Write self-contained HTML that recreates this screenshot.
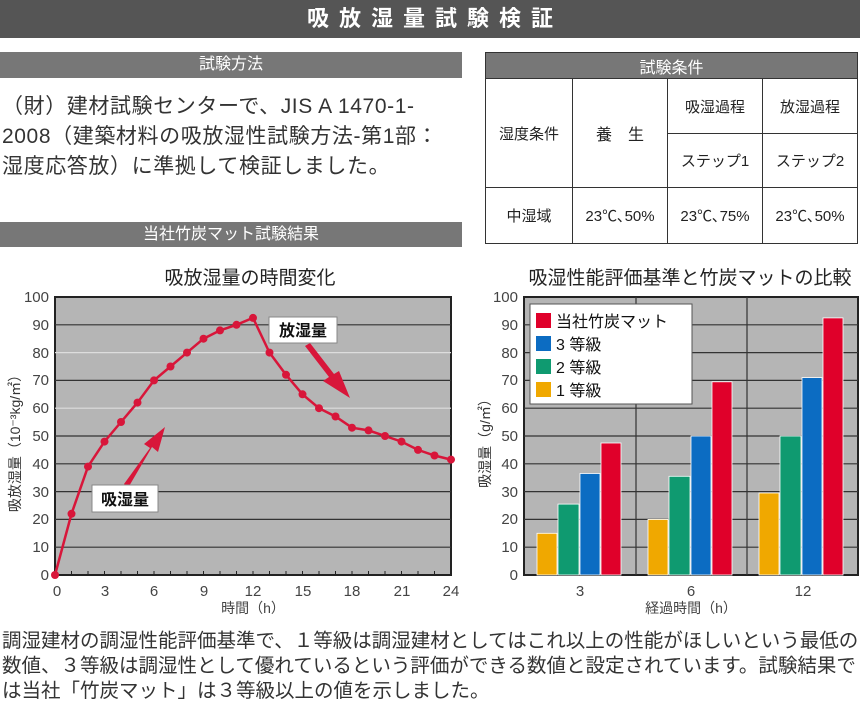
<!DOCTYPE html>
<html><head><meta charset="utf-8"><style>
*{margin:0;padding:0;box-sizing:border-box}
body{width:860px;height:709px;background:#fff;position:relative;overflow:hidden;font-family:"Liberation Sans","Noto Sans CJK JP",sans-serif;color:#333}
.a{position:absolute}
.bar{background:#777;color:#fff;text-align:center}
table{border-collapse:collapse;position:absolute;left:485px;top:52px;width:373px;height:191px;font-size:15px;color:#222}
td{border:1.5px solid #333;text-align:center}
</style></head><body>
<div class="a" style="left:0;top:0;width:860px;height:38px;background:#555;color:#fff;font-size:22px;line-height:38px;text-align:center;letter-spacing:10px;font-weight:bold;padding-left:10px">吸放湿量試験検証</div>
<div class="a bar" style="left:0;top:52px;width:462px;height:26px;line-height:26px;font-size:16px">試験方法</div>
<div class="a" style="left:2px;top:92px;width:470px;font-size:21px;letter-spacing:0.6px;line-height:30px;color:#333;white-space:nowrap">（財）建材試験センターで、JIS A 1470-1-<br>2008（建築材料の吸放湿性試験方法-第1部：<br>湿度応答放）に準拠して検証しました。</div>
<div class="a bar" style="left:0;top:222px;width:462px;height:25px;line-height:25px;font-size:16px">当社竹炭マット試験結果</div>
<table>
<tr style="height:26px"><td colspan="4" style="background:#777;color:#fff;font-size:16px">試験条件</td></tr>
<tr style="height:55px"><td rowspan="2" style="width:87px">湿度条件</td><td rowspan="2" style="width:95px;font-size:16px">養　生</td><td style="width:95px">吸湿過程</td><td>放湿過程</td></tr>
<tr style="height:54px"><td>ステップ1</td><td>ステップ2</td></tr>
<tr style="height:56px"><td>中湿域</td><td>23℃､50%</td><td>23℃､75%</td><td>23℃､50%</td></tr>
</table>
<svg class="a" style="left:0;top:0" width="860" height="709" font-family="Liberation Sans, Noto Sans CJK JP, sans-serif">
<text x="250" y="284" font-size="19" text-anchor="middle" fill="#222">吸放湿量の時間変化</text>
<rect x="55" y="297" width="396" height="278" fill="#b5b5b5" stroke="#222" stroke-width="2"/>
<g stroke="#333" stroke-width="1.2">
<line x1="55" x2="451" y1="324.8" y2="324.8"/><line x1="55" x2="451" y1="380.4" y2="380.4"/>
<line x1="55" x2="451" y1="436" y2="436"/><line x1="55" x2="451" y1="463.8" y2="463.8"/>
<line x1="55" x2="451" y1="491.6" y2="491.6"/><line x1="55" x2="451" y1="519.4" y2="519.4"/><line x1="55" x2="451" y1="547.2" y2="547.2"/>
</g>
<g stroke="#ddd" stroke-width="1.2"><line x1="55" x2="451" y1="352.6" y2="352.6"/><line x1="55" x2="451" y1="408.2" y2="408.2"/></g>
<g fill="#444" font-size="15" text-anchor="end">
<text x="49" y="302">100</text><text x="49" y="330">90</text><text x="49" y="358">80</text><text x="49" y="385">70</text><text x="49" y="413">60</text><text x="49" y="441">50</text><text x="49" y="469">40</text><text x="49" y="497">30</text><text x="49" y="524">20</text><text x="49" y="552">10</text><text x="49" y="580">0</text></g>
<g fill="#444" font-size="15" text-anchor="middle">
<text x="57" y="596">0</text><text x="105" y="596">3</text><text x="154" y="596">6</text><text x="204" y="596">9</text><text x="253" y="596">12</text><text x="303" y="596">15</text><text x="352" y="596">18</text><text x="402" y="596">21</text><text x="451" y="596">24</text>
<text x="253" y="613" font-size="14">時間（h）</text></g>
<text transform="translate(20,440) rotate(-90)" font-size="14" fill="#333" text-anchor="middle">吸放湿量（10⁻³kg/㎡）</text>
<g stroke="#222" stroke-width="1"><path d="M71.5 575v-4M88 575v-4M104.5 575v-4M121 575v-4M137.5 575v-4M154 575v-4M170.5 575v-4M187 575v-4M203.5 575v-4M220 575v-4M236.5 575v-4M253 575v-4M269.5 575v-4M286 575v-4M302.5 575v-4M319 575v-4M335.5 575v-4M352 575v-4M368.5 575v-4M385 575v-4M401.5 575v-4M418 575v-4M434.5 575v-4"/></g>
<polyline fill="none" stroke="#d8163a" stroke-width="2.5" points="55,575 71.5,513.8 88,466.6 104.5,441.6 121,422 137.5,402.6 154,380.4 170.5,366.5 187,352.6 203.5,338.7 220,330.4 236.5,324.8 253,317.9 269.5,352.6 286,374.8 302.5,394.3 319,408.2 335.5,416.5 352,427.7 368.5,430.4 385,436 401.5,441.6 418,449.9 434.5,455.5 451,459.6"/>
<g fill="#d8163a">
<circle cx="55" cy="575" r="4"/><circle cx="71.5" cy="513.8" r="4"/><circle cx="88" cy="466.6" r="4"/><circle cx="104.5" cy="441.6" r="4"/><circle cx="121" cy="422" r="4"/><circle cx="137.5" cy="402.6" r="4"/><circle cx="154" cy="380.4" r="4"/><circle cx="170.5" cy="366.5" r="4"/><circle cx="187" cy="352.6" r="4"/><circle cx="203.5" cy="338.7" r="4"/><circle cx="220" cy="330.4" r="4"/><circle cx="236.5" cy="324.8" r="4"/><circle cx="253" cy="317.9" r="4"/><circle cx="269.5" cy="352.6" r="4"/><circle cx="286" cy="374.8" r="4"/><circle cx="302.5" cy="394.3" r="4"/><circle cx="319" cy="408.2" r="4"/><circle cx="335.5" cy="416.5" r="4"/><circle cx="352" cy="427.7" r="4"/><circle cx="368.5" cy="430.4" r="4"/><circle cx="385" cy="436" r="4"/><circle cx="401.5" cy="441.6" r="4"/><circle cx="418" cy="449.9" r="4"/><circle cx="434.5" cy="455.5" r="4"/><circle cx="451" cy="459.6" r="4"/>
<path d="M124 484 L150 448 L144 444 L165 427 L158 452 L152 447 L128 488Z"/>
<path d="M305 346 L329 377 L323 381 L350 398 L339 371 L334 374 L310 343Z"/></g>
<rect x="92" y="485" width="66" height="27" fill="#fff" stroke="#888"/><text x="125" y="505" font-size="16" text-anchor="middle" font-weight="bold" fill="#111">吸湿量</text>
<rect x="269" y="317" width="68" height="26" fill="#fff" stroke="#888"/><text x="303" y="336" font-size="16" text-anchor="middle" font-weight="bold" fill="#111">放湿量</text>

<text x="690" y="284" font-size="19" text-anchor="middle" fill="#222">吸湿性能評価基準と竹炭マットの比較</text>
<rect x="524" y="297" width="334" height="278" fill="#b5b5b5" stroke="#222" stroke-width="2"/>
<g stroke="#333" stroke-width="1.2">
<path d="M524 324.8H858M524 352.6H858M524 380.4H858M524 408.2H858M524 436H858M524 463.8H858M524 491.6H858M524 519.4H858M524 547.2H858M636 297V575M747 297V575"/></g>
<g fill="#444" font-size="15" text-anchor="end">
<text x="518" y="302">100</text><text x="518" y="330">90</text><text x="518" y="358">80</text><text x="518" y="385">70</text><text x="518" y="413">60</text><text x="518" y="441">50</text><text x="518" y="469">40</text><text x="518" y="497">30</text><text x="518" y="524">20</text><text x="518" y="552">10</text><text x="518" y="580">0</text></g>
<g fill="#444" font-size="15" text-anchor="middle"><text x="580" y="596">3</text><text x="691" y="596">6</text><text x="803" y="596">12</text><text x="691" y="613" font-size="14">経過時間（h）</text></g>
<text transform="translate(490,440) rotate(-90)" font-size="14" fill="#333" text-anchor="middle">吸湿量（g/㎡）</text>
<g stroke="#fff" stroke-width="0.8">
<rect x="537" y="533.3" width="20" height="41.7" fill="#f0a800"/><rect x="558" y="504.1" width="21" height="70.9" fill="#0f9a70"/><rect x="580" y="473.5" width="20" height="101.5" fill="#0c6cc2"/><rect x="601" y="443" width="20" height="132" fill="#e0002a"/>
<rect x="648" y="519.4" width="20" height="55.6" fill="#f0a800"/><rect x="669" y="476.3" width="21" height="98.7" fill="#0f9a70"/><rect x="691" y="436" width="20" height="139" fill="#0c6cc2"/><rect x="712" y="381.8" width="20" height="193.2" fill="#e0002a"/>
<rect x="759" y="493" width="20" height="82" fill="#f0a800"/><rect x="780" y="436" width="21" height="139" fill="#0f9a70"/><rect x="802" y="377.6" width="20" height="197.4" fill="#0c6cc2"/><rect x="823" y="317.9" width="20" height="257.1" fill="#e0002a"/></g>
<rect x="530" y="304" width="162" height="100" fill="#fff" stroke="#555"/>
<rect x="536" y="313" width="15" height="15" fill="#e0002a"/><rect x="536" y="336" width="15" height="15" fill="#0c6cc2"/><rect x="536" y="359" width="15" height="15" fill="#0f9a70"/><rect x="536" y="382" width="15" height="15" fill="#f0a800"/>
<g font-size="16" fill="#111"><text x="556" y="327">当社竹炭マット</text><text x="556" y="350">3 等級</text><text x="556" y="373">2 等級</text><text x="556" y="396">1 等級</text></g>
<g font-size="19.5" fill="#333"><text x="2" y="647">調湿建材の調湿性能評価基準で、１等級は調湿建材としてはこれ以上の性能がほしいという最低の</text><text x="2" y="672">数値、３等級は調湿性として優れているという評価ができる数値と設定されています。試験結果で</text><text x="2" y="697">は当社「竹炭マット」は３等級以上の値を示しました。</text></g>
</svg>
</body></html>
